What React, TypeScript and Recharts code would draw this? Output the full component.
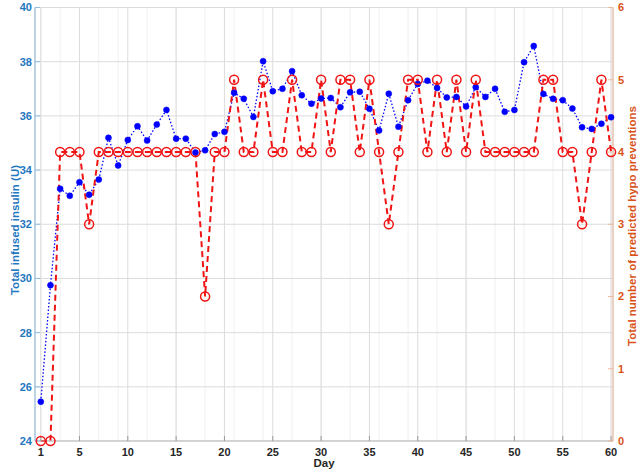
import React from 'react';
import { ComposedChart, Line, XAxis, YAxis, CartesianGrid } from 'recharts';

const days = [
  1, 2, 3, 4, 5, 6, 7, 8, 9, 10, 11, 12, 13, 14, 15, 16, 17, 18, 19, 20,
  21, 22, 23, 24, 25, 26, 27, 28, 29, 30, 31, 32, 33, 34, 35, 36, 37, 38, 39, 40,
  41, 42, 43, 44, 45, 46, 47, 48, 49, 50, 51, 52, 53, 54, 55, 56, 57, 58, 59, 60,
];

const insulin = [
  25.45, 29.75, 33.31, 33.05, 33.55, 33.09, 33.65, 35.19, 34.17, 35.11,
  35.62, 35.09, 35.68, 36.22, 35.16, 35.16, 34.65, 34.73, 35.33, 35.41,
  36.85, 36.63, 35.96, 38.02, 36.91, 37.0, 37.65, 36.76, 36.45, 36.64,
  36.66, 36.32, 36.87, 36.89, 36.26, 35.46, 36.82, 35.6, 36.58, 37.18,
  37.3, 37.03, 36.68, 36.7, 36.35, 37.06, 36.7, 37.0, 36.15, 36.22,
  37.98, 38.58, 36.81, 36.63, 36.58, 36.27, 35.58, 35.52, 35.71, 35.95,
];

const hypo = [
  0, 0, 4, 4, 4, 3, 4, 4, 4, 4,
  4, 4, 4, 4, 4, 4, 4, 2, 4, 4,
  5, 4, 4, 5, 4, 4, 5, 4, 4, 5,
  4, 5, 5, 4, 5, 4, 3, 4, 5, 5,
  4, 5, 4, 5, 4, 5, 4, 4, 4, 4,
  4, 4, 5, 5, 4, 4, 3, 4, 5, 4,
];

const xTicks = [1, 5, 10, 15, 20, 25, 30, 35, 40, 45, 50, 55, 60];
const leftTicks = [24, 26, 28, 30, 32, 34, 36, 38, 40];
const rightTicks = [0, 1, 2, 3, 4, 5, 6];
const minorXTicks = days;
const minorYTicks = [
  24, 24.5, 25, 25.5, 26, 26.5, 27, 27.5, 28, 28.5, 29, 29.5, 30, 30.5, 31, 31.5,
  32, 32.5, 33, 33.5, 34, 34.5, 35, 35.5, 36, 36.5, 37, 37.5, 38, 38.5, 39, 39.5, 40,
];

const data = days.map((d, i) => ({ day: d, insulin: insulin[i], hypo: hypo[i] }));

const FONT = '"Liberation Sans", Arial, Helvetica, sans-serif';
const BLUE_AXIS = '#1f77c0';
const ORANGE_AXIS = '#d95319';
const X_DOMAIN: [number, number] = [0.4, 60.2];

const LeftLabel = () => (
  <text
    x={15}
    y={230}
    transform="rotate(-90 15 230)"
    textAnchor="middle"
    dominantBaseline="central"
    fill={BLUE_AXIS}
    fontFamily={FONT}
    fontSize={11.5}
    fontWeight="bold"
  >
    Total infused insulin (U)
  </text>
);

const RightLabel = () => (
  <text
    x={632}
    y={226}
    transform="rotate(-90 632 226)"
    textAnchor="middle"
    dominantBaseline="central"
    fill={ORANGE_AXIS}
    fontFamily={FONT}
    fontSize={11.5}
    fontWeight="bold"
  >
    Total number of predicted hypo preventions
  </text>
);

const DayLabel = () => (
  <text
    x={324}
    y={467}
    textAnchor="middle"
    fill="#262626"
    fontFamily={FONT}
    fontSize={11.5}
    fontWeight="bold"
  >
    Day
  </text>
);

export default function App() {
  return (
    <div style={{ position: 'absolute', left: 0, top: 0, width: 643, height: 474, background: '#ffffff' }}>
      <ComposedChart
        width={643}
        height={474}
        data={data}
        margin={{ top: 7.5, right: 0, bottom: 0, left: 0 }}
      >
        <XAxis
          xAxisId="minor"
          dataKey="day"
          type="number"
          domain={X_DOMAIN}
          ticks={minorXTicks}
          hide
        />
        <YAxis yAxisId="minor" type="number" domain={[24, 40]} ticks={minorYTicks} hide />
        <CartesianGrid xAxisId="minor" yAxisId="minor" stroke="#f0f0f0" strokeWidth={1} />
        <CartesianGrid xAxisId="bottom" yAxisId="left" stroke="#dcdcdc" strokeWidth={1} />

        <XAxis
          xAxisId="bottom"
          dataKey="day"
          type="number"
          domain={X_DOMAIN}
          ticks={xTicks}
          interval={0}
          height={33}
          tickSize={-5}
          tickMargin={12}
          axisLine={{ stroke: '#bdbdbd' }}
          tickLine={{ stroke: '#9a9a9a' }}
          tick={{ fill: '#262626', fontSize: 11, fontWeight: 'bold', fontFamily: FONT }}
          label={{ content: () => <DayLabel /> }}
        />
        <XAxis
          xAxisId="top"
          orientation="top"
          dataKey="day"
          type="number"
          domain={X_DOMAIN}
          ticks={xTicks}
          height={0}
          tickSize={-5}
          tick={false}
          axisLine={{ stroke: '#d0d0d0' }}
          tickLine={{ stroke: '#9a9a9a' }}
        />
        <YAxis
          yAxisId="left"
          type="number"
          domain={[24, 40]}
          ticks={leftTicks}
          interval={0}
          width={35}
          tickSize={-5}
          tickMargin={8}
          axisLine={{ stroke: '#8fbde3' }}
          tickLine={{ stroke: '#8fbde3' }}
          tick={{ fill: BLUE_AXIS, fontSize: 11, fontWeight: 'bold', fontFamily: FONT }}
          label={{ content: () => <LeftLabel /> }}
        />
        <YAxis
          yAxisId="right"
          orientation="right"
          type="number"
          domain={[0, 6]}
          ticks={rightTicks}
          interval={0}
          width={30}
          tickSize={-5}
          tickMargin={10}
          axisLine={{ stroke: '#eeb89c' }}
          tickLine={{ stroke: '#eeb89c' }}
          tick={{ fill: ORANGE_AXIS, fontSize: 11, fontWeight: 'bold', fontFamily: FONT }}
          label={{ content: () => <RightLabel /> }}
        />

        <Line
          xAxisId="bottom"
          yAxisId="left"
          type="linear"
          dataKey="insulin"
          stroke="#0000ff"
          strokeWidth={1.3}
          strokeDasharray="1.5 2"
          dot={{ r: 3, fill: '#0000ff', stroke: '#0000ff', strokeWidth: 0.5, strokeDasharray: 'none' }}
          activeDot={false}
          isAnimationActive={false}
        />
        <Line
          xAxisId="bottom"
          yAxisId="right"
          type="linear"
          dataKey="hypo"
          stroke="#f01414"
          strokeWidth={2}
          strokeDasharray="6 4"
          dot={{ r: 4.5, fill: 'none', stroke: '#f01414', strokeWidth: 1.5, strokeDasharray: 'none' }}
          activeDot={false}
          isAnimationActive={false}
        />
      </ComposedChart>
    </div>
  );
}
